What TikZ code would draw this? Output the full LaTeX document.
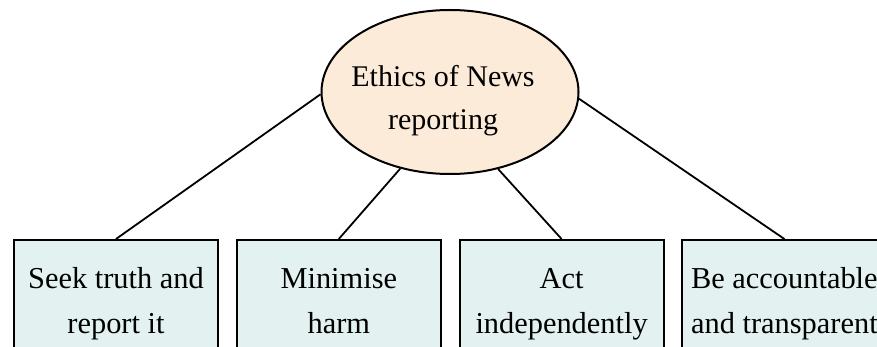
\documentclass[tikz,border=0pt]{standalone}
\usepackage{fontspec}
\setmainfont{Liberation Serif}
\usetikzlibrary{positioning}
\usetikzlibrary{shapes.geometric}

\definecolor{peach}{HTML}{FDEBDA}
\definecolor{paleteal}{HTML}{E3F2F1}

\begin{document}
\begin{tikzpicture}[x=0.5pt, y=-0.5pt,
    topic/.style={ellipse, draw, line width=1pt, fill=peach, minimum width=128.5pt, minimum height=82pt, inner sep=0pt},
    topictext/.style={align=center, inner sep=0pt, font=\fontsize{15pt}{21.5pt}\selectfont},
    duty/.style={rectangle, draw, line width=1pt, fill=paleteal, minimum width=102pt, minimum height=61.5pt, inner sep=0pt, align=center, font=\fontsize{15.2pt}{22.5pt}\selectfont},
    link/.style={line width=0.9pt}]

    \useasboundingbox (0,0) rectangle (877,347);

    \node[topic] (news) at (450,92) {};
    \node[topictext] (newslabel) at (443,101) {Ethics of News\\reporting};

    \node[duty, anchor=north west] (seek) at (13,239) {\strut Seek truth and\\report it\strut};
    \node[duty, right=8.4pt of seek] (harm) {\strut Minimise\\harm\strut};
    \node[duty, right=8.4pt of harm] (indep) {\strut Act\\independently\strut};
    \node[duty, right=8.4pt of indep] (acct) {\strut Be accountable\\and transparent\strut};

    \draw[link] (news.181) -- (seek.north);
    \draw[link] (news.237) -- (harm.north);
    \draw[link] (news.302) -- (indep.north);
    \draw[link] (news.357) -- (acct.north);

\end{tikzpicture}
\end{document}
